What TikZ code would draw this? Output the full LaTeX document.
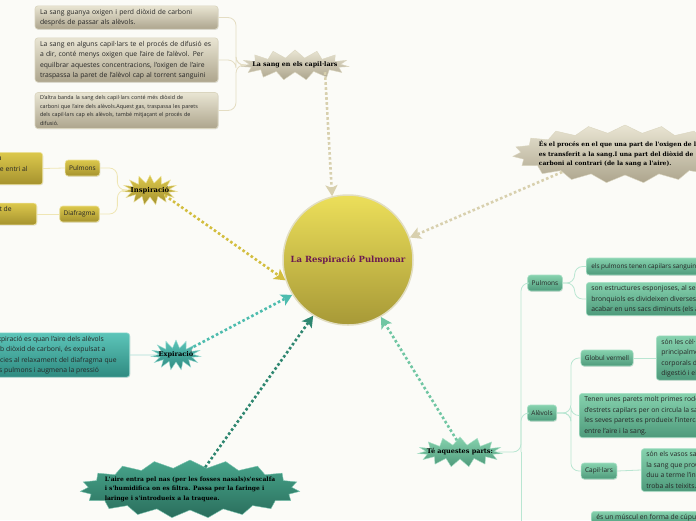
\documentclass[tikz,border=0pt]{standalone}
\usepackage{fontspec}
\setmainfont{Open Sans}
\newfontfamily\burstfont{DejaVu Serif}
\usepackage{tikz}
\usetikzlibrary{shapes.symbols, arrows.meta, shadows}

\definecolor{bgC}{HTML}{FBFBF7}
\definecolor{beigeTop}{HTML}{E9E5D3}
\definecolor{beigeBot}{HTML}{ADA58D}
\definecolor{beigeEdge}{HTML}{DAD5BF}
\definecolor{beigeLine}{HTML}{E4DDC3}
\definecolor{beigeArrow}{HTML}{D8D0AE}
\definecolor{goldTop}{HTML}{DCC84C}
\definecolor{goldBot}{HTML}{A5922E}
\definecolor{goldEdge}{HTML}{EDE3A0}
\definecolor{goldLine}{HTML}{EFE6B4}
\definecolor{goldArrow}{HTML}{D3BE3F}
\definecolor{tealTop}{HTML}{5CC5B9}
\definecolor{tealBot}{HTML}{2F8A80}
\definecolor{tealEdge}{HTML}{9ADBD2}
\definecolor{tealLine}{HTML}{A9DED7}
\definecolor{tealArrow}{HTML}{4DBCAE}
\definecolor{deepTop}{HTML}{48A68C}
\definecolor{deepBot}{HTML}{2A6E5C}
\definecolor{deepEdge}{HTML}{7CC4B0}
\definecolor{deepArrow}{HTML}{2E8670}
\definecolor{mintTop}{HTML}{86D2AE}
\definecolor{mintBot}{HTML}{4E9A7B}
\definecolor{mintEdge}{HTML}{A8E0C6}
\definecolor{mintLine}{HTML}{B9E6D2}
\definecolor{mintArrow}{HTML}{70C6A3}
\definecolor{hubTop}{HTML}{ECDF5A}
\definecolor{hubBot}{HTML}{A79937}
\definecolor{hubEdge}{HTML}{E2DEC2}
\definecolor{titleC}{HTML}{6B1A50}

\begin{document}
\begin{tikzpicture}[
    x=1pt, y=-1pt,
    box/.style={rectangle, rounded corners=3pt, draw=#1Edge, line width=0.6pt, top color=#1Top, bottom color=#1Bot, align=left, inner xsep=5pt, inner ysep=3pt, font=\fontsize{6.8}{10.5}\selectfont, text=black!85, drop shadow={opacity=0.2, shadow xshift=0.6pt, shadow yshift=-0.8pt}},
    tag/.style={box=#1, align=center, minimum height=16pt, inner ysep=1pt, inner xsep=4pt, font=\fontsize{6.5}{8}\selectfont},
    burst/.style={starburst, random starburst=0, starburst points=15, starburst point height=8pt, top color=#1Top, bottom color=#1Bot, draw=#1Edge, line width=0.4pt, inner xsep=-15pt, inner ysep=0pt, align=left, font=\burstfont\bfseries\fontsize{6}{9.5}\selectfont, text=black},
    dotarrow/.style={draw=#1, line width=2.6pt, dash pattern=on 2.6pt off 2.4pt, -{Stealth[length=11pt, width=12pt, inset=2.5pt]}},
    link/.style={draw=#1, line width=0.8pt, rounded corners=8pt}
]
\fill[bgC] (0,0) rectangle (696,520);
\useasboundingbox (0,0) rectangle (696,520);

% centre
\node[circle, minimum size=130pt, top color=hubTop, bottom color=hubBot, draw=hubEdge, line width=1.5pt, font=\burstfont\bfseries\fontsize{8.5}{10}\selectfont, text=titleC] (resp) at (348,260) {La Respiració Pulmonar};

% la sang en els capil-lars
\node[burst=beige, minimum width=108pt, minimum height=30pt, font=\burstfont\bfseries\fontsize{6.3}{8}\selectfont] (capil) at (295,65) {La sang en els capil·lars};
\node[box=beige, text width=173pt] (sang1) at (126.5,17.5) {La sang guanya oxigen i perd diòxid de carboni\\després de passar als alèvols.};
\node[box=beige, text width=173pt] (sang2) at (126.5,60) {La sang en alguns capil·lars te el procés de difusió es\\a dir,  conté menys oxigen que l'aire de l'alèvol. Per\\equilbrar aquestes concentracions, l'oxigen de l'aire\\traspassa la paret de l'alèvol cap al torrent sanguini};
\node[box=beige, text width=173pt, font=\fontsize{5.4}{8.6}\selectfont] (sang3) at (126.5,110.5) {D'altra banda la sang dels capil·lars  conté més diòxid de\\carboni que l'aire dels alèvols.Aquest gas, traspassa les parets\\dels  capil·lars cap els alèvols, també mitjaçant el procés de\\difusió.};

% definicio
\node[burst=beige, starburst points=19, minimum width=225pt, minimum height=58pt, inner xsep=-25pt] (proc) at (625,154) {És el procés en el que una part de l'oxigen de l'aire\\es transferit a la sang.I una part del diòxid de\\carboni al contrari (de la sang a l'aire).};

% inspiracio
\node[burst=gold, minimum width=55pt, minimum height=30pt, font=\burstfont\bfseries\fontsize{6.8}{8}\selectfont] (insp) at (150,190) {Inspiració};
\node[tag=gold] (pulmA) at (82.5,168) {Pulmons};
\node[tag=gold] (diaf) at (79.5,214) {Diafragma};
\node[box=gold, anchor=east, inner xsep=15pt] (pulmtxt) at (43,168.5) {Els pulmons s'eixamplen gràcies a la\\contracció del diafragma fa que l'aire entri al\\seu interior.};
\node[box=gold, anchor=east, inner xsep=25pt] (diaftxt) at (37,214) {El diafragma es contrau i provoca l'augment de\\volum.};

% expiracio
\node[burst=teal, minimum width=50pt, minimum height=30pt, font=\burstfont\bfseries\fontsize{6.6}{8}\selectfont] (expi) at (176,355) {Expiració};
\node[box=teal, anchor=east, inner xsep=13pt] (expitxt) at (130,355) {L'expiració es quan l'aire dels alèvols\\amb diòxid de carboni, és expulsat a\\gràcies al relaxament del diafragma que\\i els pulmons i augmena la pressió};

% recorregut de l'aire
\node[burst=deep, starburst points=19, minimum width=220pt, minimum height=58pt, inner xsep=-25pt] (aire) at (190,489) {L'aire entra pel nas (per les fosses nasals)s'escalfa\\i s'humidifica on es filtra. Passa per la faringe i\\laringe i s'introdueix a la traquea.};

% parts
\node[burst=mint, minimum width=85pt, minimum height=30pt, font=\burstfont\bfseries\fontsize{6.5}{8}\selectfont] (parts) at (460,452) {Té aquestes parts:};
\coordinate (hub) at (521,452);
\coordinate (spineEnd) at (521,545);
\node[tag=mint] (pulmB) at (545,283) {Pulmons};
\node[tag=mint] (alev) at (542,413) {Alèvols};
\node[tag=mint] (globul) at (607,358) {Globul vermell};
\node[tag=mint] (capB) at (599,471) {Capil·lars};
\node[box=mint, anchor=west, font=\fontsize{6.4}{7}\selectfont, minimum height=17pt] (pulmB1) at (586,266.5) {els pulmons tenen capilars sanguinis que envolten els alèvols};
\node[box=mint, anchor=west] (pulmB2) at (586,299) {son estructures esponjoses, al seu interior els\\bronquiols es divideixen diverses vegades fins\\acabar en uns sacs diminuts (els alèvols).};
\node[box=mint, anchor=west] (globtxt) at (656,358) {són les cèl·lules sanguínies encarregades\\principalment del transport d'oxigen als teixits\\corporals des dels pulmons, i dels productes de\\digestió i el diòxid de carboni.};
\node[box=mint, anchor=west] (alevtxt) at (579,415.5) {Tenen unes parets molt primes rodejades\\d'estrets capilars per on circula la sang. A través de\\les seves parets es produeix l'intercanvi de gasos\\entre l'aire i la sang.};
\node[box=mint, anchor=west] (captxt) at (641,470) { són els vasos sanguinis més petits, porten\\la sang que prové de les artèries i hi\\duu a terme l'intercanvi de substàncies que es\\troba als teixits.};
\node[box=mint, anchor=north west] (diafB) at (591,511) {és un múscul en forma de cúpula que separa el tòrax de l'abdomen};

% connectors
\draw[link=beigeLine] (capil.west) -- ++(-10,0) |- (sang1.east);
\draw[link=beigeLine] (capil.west) -- ++(-10,0) |- (sang2.east);
\draw[link=beigeLine] (capil.west) -- ++(-10,0) |- (sang3.east);
\draw[link=goldLine] (insp.west) -- ++(-10,0) |- (pulmA.east);
\draw[link=goldLine] (insp.west) -- ++(-10,0) |- (diaf.east);
\draw[link=goldLine] (pulmA.west) -- (pulmtxt.east);
\draw[link=goldLine] (diaf.west) -- (diaftxt.east);
\draw[link=tealLine] (expi.west) -- (expitxt.east);
\draw[link=mintLine] (parts.east) -- (hub) |- (pulmB.west);
\draw[link=mintLine] (hub) |- (alev.west);
\draw[link=mintLine] (hub) -- (spineEnd);
\draw[link=mintLine] (pulmB.east) -- ++(12,0) |- (pulmB1.west);
\draw[link=mintLine] (pulmB.east) -- ++(12,0) |- (pulmB2.west);
\draw[link=mintLine] (alev.east) -- ++(14,0) |- (globul.west);
\draw[link=mintLine] (alev.east) -- ++(14,0) |- (alevtxt.west);
\draw[link=mintLine] (alev.east) -- ++(14,0) |- (capB.west);
\draw[link=mintLine] (globul.east) -- (globtxt.west);
\draw[link=mintLine] (capB.east) -- (captxt.west);

% dotted arrows to the centre
\draw[dotarrow=beigeArrow] ([xshift=30pt]capil.south) -- (resp.104);
\draw[dotarrow=beigeArrow] (proc.196) -- (resp.20);
\draw[dotarrow=goldArrow] (insp.-20) -- (resp.198);
\draw[dotarrow=tealArrow] (expi.25) -- (resp.212);
\draw[dotarrow=deepArrow] (aire.55) -- (resp.238);
\draw[dotarrow=mintArrow] (parts.105) -- (resp.300);
\end{tikzpicture}
\end{document}
